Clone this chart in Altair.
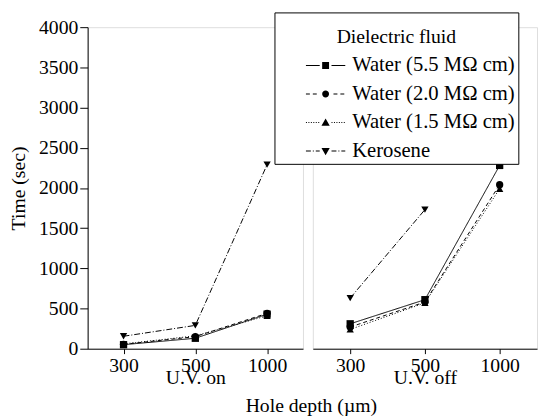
import altair as alt
import pandas as pd

FONT = "Liberation Serif"

series = ["Water (5.5 MΩ cm)", "Water (2.0 MΩ cm)", "Water (1.5 MΩ cm)", "Kerosene"]
depths = ["300", "500", "1000"]

# U.V. on
on_w55 = [50, 130, 430]
on_w20 = [55, 150, 440]
on_w15 = [60, 160, 410]
on_ker = [155, 290, 2290]

# U.V. off
off_w55 = [310, 610, 2280]
off_w20 = [270, 580, 2040]
off_w15 = [240, 570, 1990]
off_ker = [630, 1730, None]

y_major = [0, 500, 1000, 1500, 2000, 2500, 3000, 3500, 4000]

shapes = ["square", "circle", "triangle-up", "triangle-down"]
dashes = [[1, 0], [4, 3], [1, 2], [6, 2, 1, 2]]


# legend symbols: line sample (thin filled bars) + marker, as custom SVG paths
def bars(segs):
    return "".join(f"M{a},-0.05H{b}V0.05H{a}Z" for a, b in segs)


def dotted(a, b):
    out = []
    x = a
    while x + 0.1 <= b + 1e-9:
        out.append((round(x, 2), round(x + 0.1, 2)))
        x += 0.25
    return out


sq = "M3.45,-0.35H4.15V0.35H3.45Z"
ci = "M4.15,0A0.35,0.35 0 1,1 3.45,0A0.35,0.35 0 1,1 4.15,0Z"
tu = "M3.8,-0.42L4.22,0.32L3.38,0.32Z"
td = "M3.8,0.42L4.22,-0.32L3.38,-0.32Z"

legend_paths = [
    bars([(1.8, 3.2), (4.4, 5.8)]) + sq,
    bars([(1.8, 2.2), (2.5, 2.9), (4.6, 5.0), (5.3, 5.7)]) + ci,
    bars(dotted(1.8, 3.2) + dotted(4.4, 5.8)) + tu,
    bars([(1.8, 2.3), (2.5, 2.6), (2.8, 3.2), (4.4, 4.9), (5.1, 5.2), (5.4, 5.8)]) + td,
]


def make_df(vals):
    rows = []
    for s, v in zip(series, vals):
        for d, t in zip(depths, v):
            if t is not None:
                rows.append({"series": s, "depth": d, "time": t})
    return pd.DataFrame(rows)


df_on = make_df([on_w55, on_w20, on_w15, on_ker])
df_off = make_df([off_w55, off_w20, off_w15, off_ker])


def panel(df, title, width, show_y, with_legend):
    x = alt.X(
        "depth:N",
        sort=depths,
        scale=alt.Scale(type="point", padding=0.5),
        axis=alt.Axis(
            title=title,
            labelAngle=0,
            tickSize=5,
            labelPadding=2,
            titlePadding=-8,
            labelFont=FONT,
            labelFontSize=20,
            titleFont=FONT,
            titleFontSize=20,
            titleFontWeight="normal",
            domainColor="black",
            tickColor="black",
            labelColor="black",
            titleColor="black",
        ),
    )
    if show_y:
        yaxis = alt.Axis(
            title="Time (sec)",
            values=y_major,
            format="d",
            tickSize=8,
            labelPadding=2,
            titlePadding=10,
            labelFont=FONT,
            labelFontSize=20,
            titleFont=FONT,
            titleFontSize=20,
            titleFontWeight="normal",
            domainColor="black",
            tickColor="black",
            labelColor="black",
            titleColor="black",
            grid=False,
        )
    else:
        yaxis = None
    y = alt.Y("time:Q", scale=alt.Scale(domain=[0, 4000]), axis=yaxis)

    base = alt.Chart(df)
    lines = base.mark_line(color="black", strokeWidth=1).encode(
        x=x,
        y=y,
        strokeDash=alt.StrokeDash(
            "series:N", scale=alt.Scale(domain=series, range=dashes), legend=None
        ),
        detail="series:N",
    )
    layers = [lines]
    for s, sh in zip(series, shapes):
        layers.append(
            base.transform_filter(alt.datum.series == s)
            .mark_point(shape=sh, filled=True, color="black", size=55, opacity=1)
            .encode(x=x, y=y)
        )
    if with_legend:
        leg = (
            base.transform_filter("false")
            .mark_point(filled=True, color="black", opacity=1)
            .encode(
                x=x,
                y=y,
                shape=alt.Shape(
                    "series:N",
                    scale=alt.Scale(domain=series, range=legend_paths),
                    legend=alt.Legend(
                        title=["", "Dielectric fluid"],
                        orient="none",
                        legendX=-39,
                        legendY=-15,
                        titleFont=FONT,
                        titleFontSize=20,
                        titleLineHeight=12,
                        titleFontWeight="normal",
                        titleColor="black",
                        titleAnchor="middle",
                        titlePadding=8,
                        labelFont=FONT,
                        labelFontSize=21,
                        labelColor="black",
                        labelOffset=54,
                        labelLimit=300,
                        symbolSize=400,
                        symbolFillColor="black",
                        symbolOpacity=1,
                        rowPadding=8,
                        padding=3,
                        strokeColor="black",
                        fillColor="white",
                    ),
                ),
            )
        )
        layers.append(leg)
    return alt.layer(*layers).properties(width=width, height=327)


left = panel(df_on, "U.V. on", 219, True, False)
right = panel(df_off, "U.V. off", 228, False, True)

chart = (
    alt.hconcat(left, right, spacing=10, bounds="flush")
    .resolve_scale(shape="independent")
    .resolve_legend(shape="independent")
    .properties(
        padding={"left": 0, "top": 0, "right": 0, "bottom": 0},
        title=alt.TitleParams(
            "Hole depth (µm)",
            orient="bottom",
            anchor="middle",
            font=FONT,
            fontSize=20,
            fontWeight="normal",
            color="black",
            offset=9,
            dx=39,
        ),
    )
    .configure_view(strokeWidth=0)
    .configure(background="white", font=FONT)
)

chart.save("out.html", embed_options={"renderer": "svg", "actions": False})
